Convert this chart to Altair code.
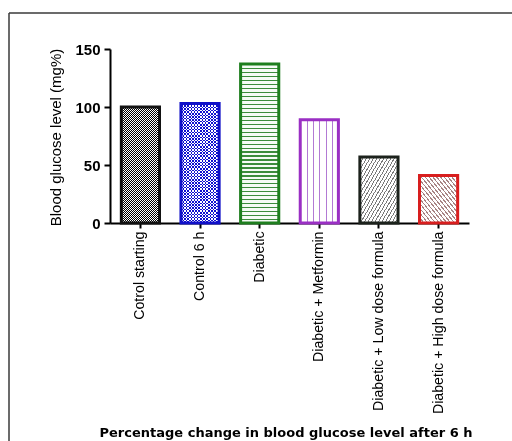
import altair as alt
import pandas as pd

categories = ["Cotrol starting", "Control 6 h", "Diabetic", "Diabetic + Metformin",
              "Diabetic + Low dose formula", "Diabetic + High dose formula"]
values = [100, 103, 137, 89, 57, 41]
outline_colors = ["#111111", "#1010c8", "#1e7e1e", "#9a2fc4", "#1c221c", "#d81e1e"]
y_ticks = [0, 50, 100, 150]

df = pd.DataFrame({"group": categories, "glucose": values})


def stripes(n, line, bg, frac, x1, y1, x2, y2):
    stops = []
    p = 1.0 / n
    for i in range(n):
        a = round(i * p, 6)
        b = round(min(1.0, (i + frac) * p), 6)
        c = round(min(1.0, (i + 1) * p), 6)
        stops += [alt.GradientStop(offset=a, color=line), alt.GradientStop(offset=b, color=line),
                  alt.GradientStop(offset=b, color=bg), alt.GradientStop(offset=c, color=bg)]
    return alt.Gradient(gradient="linear", stops=stops, x1=x1, y1=y1, x2=x2, y2=y2)


VERT = dict(x1=0, y1=0, x2=1, y2=0)
HORZ = dict(x1=0, y1=0, x2=0, y2=1)
DIAG_UP = dict(x1=0, y1=0, x2=1, y2=1)      # "/" lines
DIAG_DOWN = dict(x1=0, y1=1, x2=1, y2=0)    # "\" lines

FONT = "Liberation Sans"

x_enc = alt.X(
    "group:N", sort=categories,
    scale=alt.Scale(paddingInner=0.36, paddingOuter=0.19),
    axis=alt.Axis(
        title="Percentage change in blood glucose level after 6 h",
        titleFont="DejaVu Sans", titleFontWeight="bold", titleFontSize=13,
        titleColor="black", titleX=175.5, titleY=209, titleAlign="center",
        titleBaseline="middle",
        labelAngle=270, labelAlign="right", labelBaseline="middle",
        labelFont=FONT, labelFontSize=14.2, labelColor="black",
        labelPadding=3, labelLimit=400,
        tickSize=5, tickWidth=2, tickColor="black",
        domainColor="black", domainWidth=2,
    ),
)
y_enc = alt.Y(
    "glucose:Q",
    scale=alt.Scale(domain=[0, 150], nice=False),
    axis=alt.Axis(
        values=y_ticks, grid=False,
        title="Blood glucose level (mg%)",
        titleFont=FONT, titleFontSize=15, titleFontWeight="normal",
        titleColor="black", titleAngle=270, titleX=-55, titleY=88,
        titleAlign="center", titleBaseline="middle",
        labelFont=FONT, labelFontSize=15, labelFontWeight="bold",
        labelColor="black", labelPadding=4,
        tickSize=6, tickWidth=2, tickColor="black",
        domainColor="black", domainWidth=2,
    ),
)

base = alt.Chart(df).encode(x=x_enc, y=y_enc)


def only(cat):
    return base.transform_filter(alt.datum.group == cat)


layers = []
# 1. Cotrol starting: fine black/white checker
layers.append(only(categories[0]).mark_bar(fill=stripes(19, "#000000", "#ffffff", 0.5, **VERT)))
layers.append(only(categories[0]).mark_bar(fill=stripes(58, "#ffffff", "#000000", 0.5, **HORZ),
                                           blend="difference"))
# 2. Control 6 h: blue checker
layers.append(only(categories[1]).mark_bar(fill=stripes(12, "#000000", "#ffffff", 0.5, **VERT)))
layers.append(only(categories[1]).mark_bar(fill=stripes(38, "#ffffff", "#000000", 0.5, **HORZ),
                                           blend="difference"))
layers.append(only(categories[1]).mark_bar(fill="#1010d0", blend="lighten"))
# 3. Diabetic: horizontal green lines
layers.append(only(categories[2]).mark_bar(fill=stripes(40, "#3c8c3c", "#f6fbf6", 0.3, **HORZ)))
# 4. Metformin: vertical purple lines
layers.append(only(categories[3]).mark_bar(fill=stripes(6, "#b27ad4", "#ffffff", 0.16, **VERT)))
# 5. Low dose: "/" hatch
layers.append(only(categories[4]).mark_bar(fill=stripes(22, "#7a7a7a", "#ffffff", 0.3, **DIAG_UP)))
# 6. High dose: "\" hatch
layers.append(only(categories[5]).mark_bar(fill=stripes(20, "#a88484", "#ffffff", 0.35, **DIAG_DOWN)))

# outlines
outline = base.mark_bar(fill="transparent", strokeWidth=3).encode(
    stroke=alt.Stroke("group:N", sort=categories,
                      scale=alt.Scale(domain=categories, range=outline_colors), legend=None)
)
layers.append(outline)

# picture frame (top and left border)
frame_data = alt.Data(values=[{"f": 1}])
frame_left = alt.Chart(frame_data).mark_rule(color="#3a3a3a", strokeWidth=1.5).encode(
    x=alt.value(-101), y=alt.value(-36), y2=alt.value(392))
frame_top = alt.Chart(frame_data).mark_rule(color="#3a3a3a", strokeWidth=1.5).encode(
    x=alt.value(-101), x2=alt.value(402), y=alt.value(-36))

chart = alt.layer(*layers, frame_left, frame_top).properties(
    width=359, height=174,
    autosize=alt.AutoSizeParams(type="none"),
    padding={"left": 110, "top": 49, "right": 43, "bottom": 218},
    background="white",
).configure_view(stroke=None)

chart.save("out.html", embed_options={"renderer": "svg", "actions": False})
